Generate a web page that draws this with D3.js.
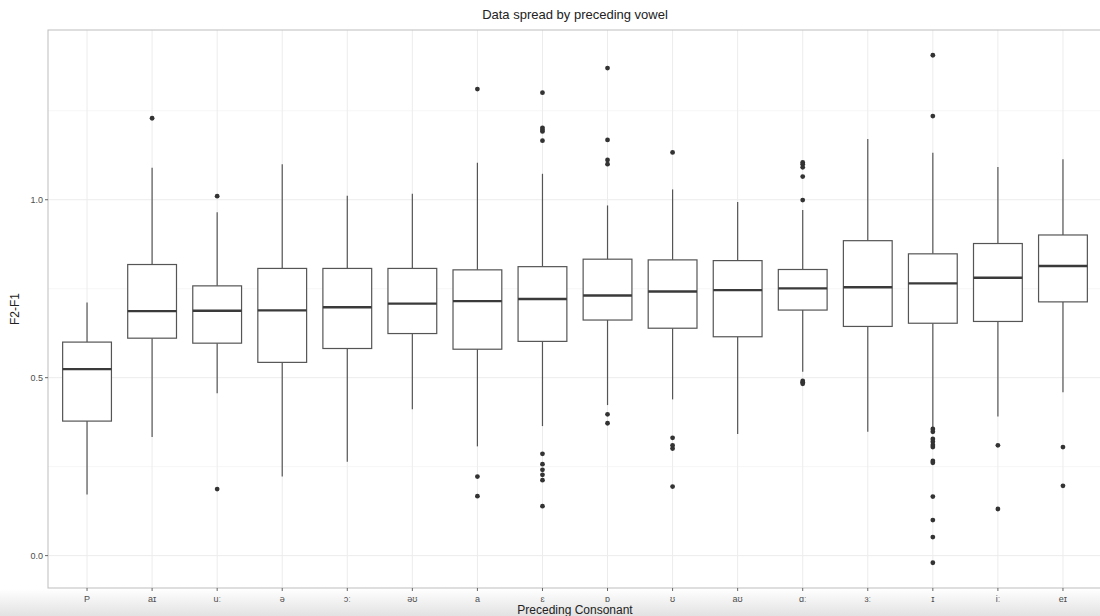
<!DOCTYPE html>
<meta charset="utf-8">
<div id="chart"></div>
<style>
body { margin: 0; background: #fff; font-family: 'Liberation Sans', 'DejaVu Sans', Arial, sans-serif; }
</style>
<script src="https://d3js.org/d3.v7.min.js"></script>
<script>
// vowels, in plot order
var categories = ['P', 'aɪ', 'uː', 'ə', 'ɔː', 'əʊ', 'a', 'ɛ', 'ɒ', 'ʊ', 'aʊ', 'ɑː', 'ɜː', 'ɪ', 'iː', 'eɪ'];
var whiskerLow  = [0.172, 0.333, 0.456, 0.222, 0.264, 0.411, 0.307, 0.364, 0.423, 0.439, 0.342, 0.517, 0.348, 0.360, 0.391, 0.459];
var q1          = [0.378, 0.611, 0.597, 0.543, 0.582, 0.624, 0.580, 0.602, 0.662, 0.639, 0.615, 0.690, 0.644, 0.653, 0.658, 0.713];
var medians     = [0.524, 0.687, 0.688, 0.689, 0.698, 0.708, 0.715, 0.721, 0.731, 0.742, 0.746, 0.751, 0.754, 0.765, 0.781, 0.814];
var q3          = [0.600, 0.818, 0.758, 0.807, 0.807, 0.807, 0.803, 0.812, 0.833, 0.831, 0.829, 0.804, 0.885, 0.848, 0.877, 0.901];
var whiskerHigh = [0.711, 1.090, 0.965, 1.100, 1.011, 1.017, 1.104, 1.073, 0.984, 1.029, 0.994, 0.971, 1.171, 1.132, 1.092, 1.114];
var outliers = [
  [],
  [1.229],
  [1.010, 0.187],
  [],
  [],
  [],
  [1.311, 0.222, 0.167],
  [1.301, 1.202, 1.197, 1.192, 1.166, 0.286, 0.257, 0.241, 0.227, 0.212, 0.139],
  [1.370, 1.168, 1.112, 1.100, 0.397, 0.372],
  [1.133, 0.331, 0.310, 0.301, 0.194],
  [],
  [1.105, 1.100, 1.091, 1.065, 0.999, 0.491, 0.487, 0.483],
  [],
  [1.406, 1.235, 0.356, 0.348, 0.328, 0.320, 0.311, 0.305, 0.266, 0.261, 0.166, 0.100, 0.052, -0.020],
  [0.310, 0.131],
  [0.305, 0.196]
];
var yTicks = [0, 0.5, 1.0];
var yMinor = [0.25, 0.75, 1.25];

var W = 1100, H = 616;
var pLeft = 48, pRight = 1102, pTop = 30, pBottom = 588;

var svg = d3.select('#chart').append('svg')
  .attr('width', W).attr('height', H);

// screenshot shadow at the bottom
var defs = svg.append('defs');
var grad = defs.append('linearGradient').attr('id', 'shade')
  .attr('x1', 0).attr('y1', 0).attr('x2', 0).attr('y2', 1);
grad.append('stop').attr('offset', '0%').attr('stop-color', '#ffffff');
grad.append('stop').attr('offset', '100%').attr('stop-color', '#e2e2e2');
svg.append('rect').attr('x', 0).attr('y', 589).attr('width', W).attr('height', H - 589)
  .attr('fill', 'url(#shade)');

var x = d3.scalePoint().domain(categories).range([pLeft, pRight]).padding(0.6);
var y = d3.scaleLinear().domain([-0.091, 1.477]).range([pBottom, pTop]);
var bw = x.step() * 0.75;

var panel = svg.append('g');
panel.append('rect').attr('x', pLeft).attr('y', pTop)
  .attr('width', pRight - pLeft).attr('height', pBottom - pTop).attr('fill', '#fff');

panel.selectAll('.minor').data(yMinor).enter().append('line')
  .attr('x1', pLeft).attr('x2', pRight)
  .attr('y1', d => y(d)).attr('y2', d => y(d))
  .attr('stroke', '#f6f6f6').attr('stroke-width', 1);
panel.selectAll('.major').data(yTicks).enter().append('line')
  .attr('x1', pLeft).attr('x2', pRight)
  .attr('y1', d => y(d)).attr('y2', d => y(d))
  .attr('stroke', '#ececec').attr('stroke-width', 1);
panel.selectAll('.vgrid').data(categories).enter().append('line')
  .attr('x1', d => x(d)).attr('x2', d => x(d))
  .attr('y1', pTop).attr('y2', pBottom)
  .attr('stroke', '#ececec').attr('stroke-width', 1);

var boxes = panel.selectAll('.box').data(categories).enter().append('g');
boxes.append('line')
  .attr('x1', d => x(d)).attr('x2', d => x(d))
  .attr('y1', (d, i) => y(whiskerHigh[i])).attr('y2', (d, i) => y(q3[i]))
  .attr('stroke', '#555').attr('stroke-width', 1.2);
boxes.append('line')
  .attr('x1', d => x(d)).attr('x2', d => x(d))
  .attr('y1', (d, i) => y(q1[i])).attr('y2', (d, i) => y(whiskerLow[i]))
  .attr('stroke', '#555').attr('stroke-width', 1.2);
boxes.append('rect')
  .attr('x', d => x(d) - bw / 2).attr('width', bw)
  .attr('y', (d, i) => y(q3[i])).attr('height', (d, i) => y(q1[i]) - y(q3[i]))
  .attr('fill', '#fff').attr('stroke', '#555').attr('stroke-width', 1.2);
boxes.append('line')
  .attr('x1', d => x(d) - bw / 2).attr('x2', d => x(d) + bw / 2)
  .attr('y1', (d, i) => y(medians[i])).attr('y2', (d, i) => y(medians[i]))
  .attr('stroke', '#3a3a3a').attr('stroke-width', 2.4);

boxes.each(function(d, i) {
  d3.select(this).selectAll('circle').data(outliers[i]).enter().append('circle')
    .attr('cx', x(d)).attr('cy', v => y(v)).attr('r', 2.4)
    .attr('fill', '#333');
});

panel.append('rect').attr('x', pLeft).attr('y', pTop)
  .attr('width', pRight - pLeft).attr('height', pBottom - pTop)
  .attr('fill', 'none').attr('stroke', '#bdbdbd').attr('stroke-width', 1);

// axes
var yAxis = svg.append('g');
yAxis.selectAll('line').data(yTicks).enter().append('line')
  .attr('x1', pLeft - 3).attr('x2', pLeft).attr('y1', d => y(d)).attr('y2', d => y(d))
  .attr('stroke', '#666');
yAxis.selectAll('text').data(yTicks).enter().append('text')
  .attr('x', pLeft - 5).attr('y', d => y(d)).attr('dy', '0.35em')
  .attr('text-anchor', 'end').attr('font-size', 9).attr('fill', '#4d4d4d')
  .text(d => d3.format('.1f')(d));

var xAxis = svg.append('g');
xAxis.selectAll('line').data(categories).enter().append('line')
  .attr('x1', d => x(d)).attr('x2', d => x(d)).attr('y1', pBottom).attr('y2', pBottom + 3)
  .attr('stroke', '#666');
xAxis.selectAll('text').data(categories).enter().append('text')
  .attr('x', d => x(d)).attr('y', pBottom + 14)
  .attr('text-anchor', 'middle').attr('font-size', 9).attr('fill', '#4d4d4d')
  .text(d => d);

svg.append('text').attr('x', (pLeft + pRight) / 2).attr('y', 19)
  .attr('text-anchor', 'middle').attr('font-size', 13).attr('fill', '#222')
  .text('Data spread by preceding vowel');
svg.append('text').attr('x', (pLeft + pRight) / 2).attr('y', 614)
  .attr('text-anchor', 'middle').attr('font-size', 12).attr('fill', '#222')
  .text('Preceding Consonant');
svg.append('text')
  .attr('transform', 'translate(19,' + (pTop + pBottom) / 2 + ') rotate(-90)')
  .attr('text-anchor', 'middle').attr('font-size', 12).attr('fill', '#222')
  .text('F2-F1');
</script>
